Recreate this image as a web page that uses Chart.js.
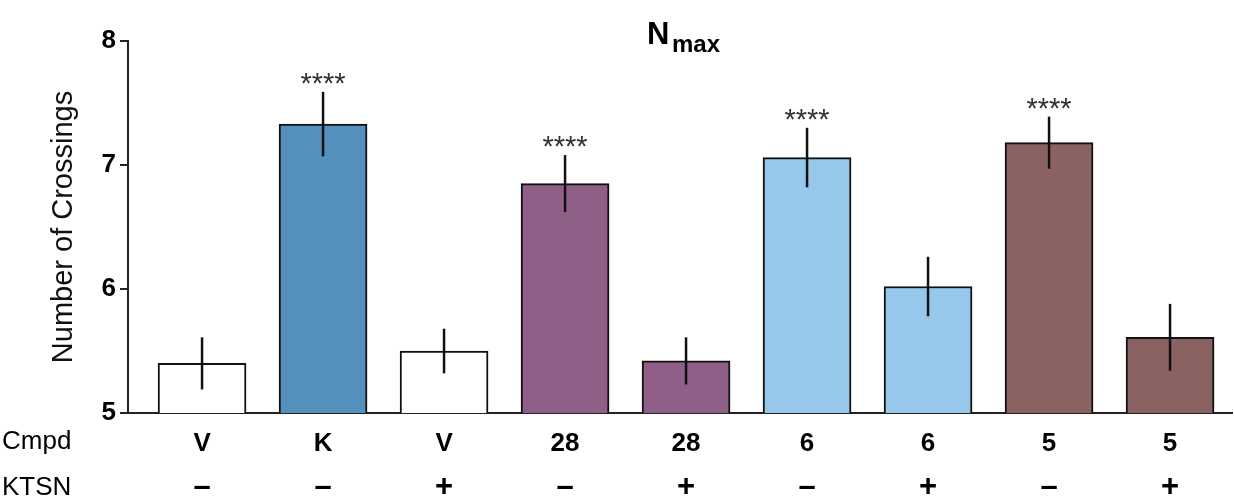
<!DOCTYPE html>
<html lang="en">
<head>
  <meta charset="UTF-8" />
  <title>Nmax - Number of Crossings</title>
  <script src="https://cdn.jsdelivr.net/npm/chart.js"></script>
  <style>
    body {
      margin: 0;
      background: #ffffff;
    }
    .chart-box {
      width: 1234px;
      height: 500px;
    }
  </style>
</head>
<body>

<div class="chart-box">
  <canvas id="nmaxChart"></canvas>
</div>

<script>
  // values
  const cmpd = ['V', 'K', 'V', '28', '28', '6', '6', '5', '5'];
  const ktsn = ['\u2013', '\u2013', '+', '\u2013', '+', '\u2013', '+', '\u2013', '+'];
  const means = [5.40, 7.33, 5.50, 6.85, 5.42, 7.06, 6.02, 7.18, 5.61];
  const sems = [0.21, 0.26, 0.18, 0.23, 0.19, 0.24, 0.24, 0.21, 0.27];
  const stars = ['', '****', '', '****', '', '****', '', '****', ''];
  const yTicks = [5, 6, 7, 8];

  const barColors = ['#ffffff', '#558fbc', '#ffffff', '#8f5f88', '#8f5f88', '#97c8ec', '#97c8ec', '#8b6262', '#8b6262'];

  const fontFamily = '"Liberation Sans", Arial, sans-serif';

  // error bars, significance stars, title and the KTSN row
  const extrasPlugin = {
    id: 'extras',
    afterDatasetsDraw(chart) {
      const ctx = chart.ctx;
      const x = chart.scales.x;
      const y = chart.scales.y;

      ctx.save();
      ctx.strokeStyle = '#111';
      ctx.lineWidth = 2.5;
      means.forEach((m, i) => {
        const px = x.getPixelForValue(i);
        ctx.beginPath();
        ctx.moveTo(px, y.getPixelForValue(m - sems[i]));
        ctx.lineTo(px, y.getPixelForValue(m + sems[i]));
        ctx.stroke();
      });

      ctx.fillStyle = '#333';
      ctx.font = '29px ' + fontFamily;
      ctx.textAlign = 'center';
      ctx.textBaseline = 'middle';
      stars.forEach((s, i) => {
        if (!s) return;
        const px = x.getPixelForValue(i);
        const py = y.getPixelForValue(means[i] + sems[i]);
        ctx.fillText(s, px, py - 7);
      });

      // KTSN row
      ctx.fillStyle = '#000';
      ctx.font = 'bold 31px ' + fontFamily;
      ktsn.forEach((k, i) => {
        ctx.fillText(k, x.getPixelForValue(i), 487);
      });

      // title N_max
      ctx.textAlign = 'left';
      ctx.textBaseline = 'alphabetic';
      ctx.font = 'bold 31px ' + fontFamily;
      ctx.fillText('N', 647, 44);
      ctx.font = 'bold 24px ' + fontFamily;
      ctx.fillText('max', 672, 52);

      // row labels
      ctx.font = '26px ' + fontFamily;
      ctx.textBaseline = 'middle';
      ctx.fillText('Cmpd', 2, 442);
      ctx.fillText('KTSN', 2, 488);
      ctx.restore();
    }
  };

  const ctx = document.getElementById('nmaxChart').getContext('2d');
  new Chart(ctx, {
    type: 'bar',
    data: {
      datasets: [{
        data: means.map((m, i) => ({ x: i, y: m })),
        backgroundColor: barColors,
        borderColor: '#111',
        borderWidth: 2,
        borderSkipped: false,
        barThickness: 88
      }]
    },
    options: {
      responsive: true,
      maintainAspectRatio: false,
      animation: false,
      layout: { padding: { top: 41, right: 2, left: 0, bottom: 0 } },
      plugins: {
        legend: { display: false },
        tooltip: { enabled: false }
      },
      scales: {
        x: {
          type: 'linear',
          offset: false,
          min: -0.612,
          max: 8.512,
          afterBuildTicks: scale => {
            scale.ticks = cmpd.map((_, i) => ({ value: i }));
          },
          afterFit: scale => { scale.height = 87; },
          grid: { display: false, offset: false },
          border: { display: true, color: '#222', width: 2 },
          ticks: {
            autoSkip: false,
            maxRotation: 0,
            padding: 10,
            color: '#000',
            font: { family: fontFamily, size: 26, weight: 'bold', lineHeight: 1 },
            callback: v => cmpd[v]
          }
        },
        y: {
          min: 5,
          max: 8,
          afterBuildTicks: scale => {
            scale.ticks = yTicks.map(v => ({ value: v }));
          },
          afterFit: scale => { scale.width = 128; },
          grid: {
            display: true,
            drawOnChartArea: false,
            drawTicks: true,
            tickLength: 8,
            color: '#222',
            lineWidth: 2
          },
          border: { display: true, color: '#222', width: 2 },
          ticks: {
            padding: 4,
            color: '#000',
            font: { family: fontFamily, size: 26, weight: 'bold' }
          },
          title: {
            display: true,
            text: 'Number of Crossings',
            color: '#111',
            padding: { top: 47, bottom: 0 },
            font: { family: fontFamily, size: 29 }
          }
        }
      }
    },
    plugins: [extrasPlugin]
  });
</script>

</body>
</html>
